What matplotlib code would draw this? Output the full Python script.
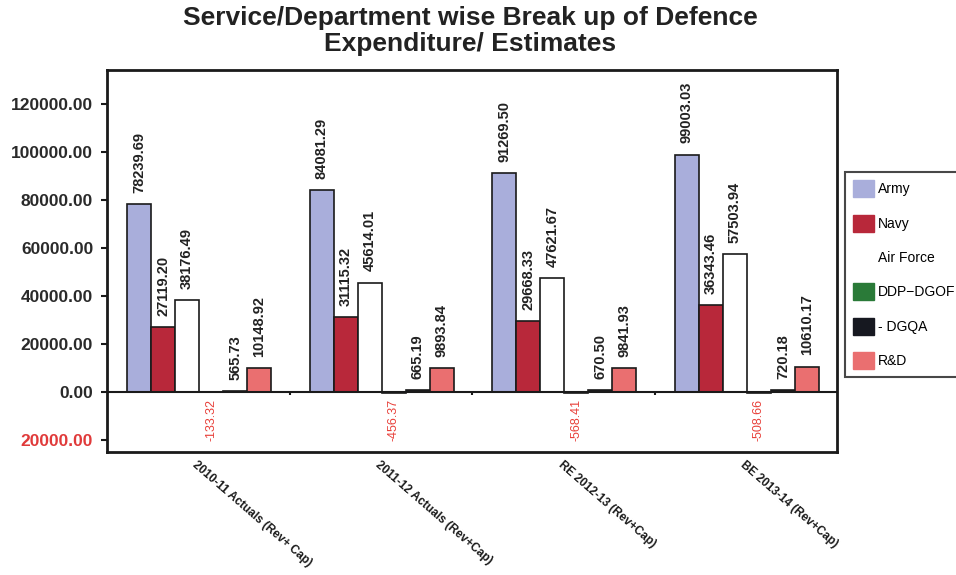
import matplotlib.pyplot as plt
from matplotlib.patches import Patch
import numpy as np

plt.rcParams['font.family'] = ['Liberation Sans', 'DejaVu Sans']

periods = ['2010-11 Actuals (Rev+ Cap)', '2011-12 Actuals (Rev+Cap)',
           'RE 2012-13 (Rev+Cap)', 'BE 2013-14 (Rev+Cap)']
services = ['Army', 'Navy', 'Air Force', 'DDP\u2212DGOF', '- DGQA', 'R&D']
army = [78239.69, 84081.29, 91269.50, 99003.03]
navy = [27119.20, 31115.32, 29668.33, 36343.46]
air_force = [38176.49, 45614.01, 47621.67, 57503.94]
ddp_dgof = [-133.32, -456.37, -568.41, -508.66]
dgqa = [565.73, 665.19, 670.50, 720.18]
rnd = [10148.92, 9893.84, 9841.93, 10610.17]
yticks = [-20000, 0, 20000, 40000, 60000, 80000, 100000, 120000]

series = [army, navy, air_force, ddp_dgof, dgqa, rnd]
colors = ['#a9aedb', '#b8283a', '#ffffff', '#2a7a38', '#161820', '#ea6f70']

fig = plt.figure(figsize=(9.56, 5.75), dpi=100)
ax = fig.add_axes([0.112, 0.214, 0.764, 0.664])

x = np.arange(len(periods))
w = 0.1315
start = -0.39 + w / 2
for i, (vals, c) in enumerate(zip(series, colors)):
    pos = x + start + i * w
    ax.bar(pos, vals, w, color=c, edgecolor='#1a1a1a', linewidth=1.2, zorder=3)
    for p, v in zip(pos, vals):
        if v >= 0:
            ax.annotate(f'{v:.2f}', (p, v), xytext=(0, 8), textcoords='offset points',
                        rotation=90, ha='center', va='bottom', fontsize=10.5,
                        fontweight='bold', color='#222222')
        else:
            ax.annotate(f'{v:.2f}', (p, 0), xytext=(0, -5), textcoords='offset points',
                        rotation=90, ha='center', va='top', fontsize=9,
                        color='#e8403a')

ax.axhline(0, color='#1a1a1a', linewidth=1.5, zorder=4)
ax.vlines(x[:-1] + 0.5, -1300, 0, color='#1a1a1a', linewidth=1.5, zorder=4)

ax.set_xlim(-0.5, 3.5)
ax.set_ylim(-25000, 134200)
ax.set_yticks(yticks)
ax.set_yticklabels([f'{abs(v):.2f}' for v in yticks], fontsize=12.5, fontweight='bold',
                   color='#2a2a2a')
ax.get_yticklabels()[0].set_color('#e03a3a')
ax.tick_params(axis='y', length=4, width=1.5, color='#1a1a1a', pad=6)

ax.set_xticks(x)
ax.set_xticklabels(periods, rotation=-41, ha='left', rotation_mode='anchor',
                   fontsize=8.5, fontweight='bold', color='#1a1a1a')
ax.tick_params(axis='x', length=0, pad=5)
for lab in ax.get_xticklabels():
    x0, y0 = lab.get_position()
    lab.set_x(x0 - 0.06)

for s in ax.spines.values():
    s.set_linewidth(2)
    s.set_color('#1a1a1a')

fig.suptitle('Service/Department wise Break up of Defence\nExpenditure/ Estimates',
             x=0.492, y=0.99, fontsize=19, fontweight='bold', color='#222222',
             linespacing=1.12)

handles = [Patch(facecolor=c, edgecolor=c) for c in colors]
leg = fig.legend(handles, services, loc='upper left',
                 bbox_to_anchor=(845 / 956, 1 - 172 / 575), borderaxespad=0,
                 fontsize=10, labelspacing=1.25, handlelength=1.5, handleheight=1.5,
                 handletextpad=0.3, borderpad=0.6, fancybox=False, frameon=True)
leg.get_frame().set_edgecolor('#1a1a1a')
leg.get_frame().set_linewidth(1.5)

fig.savefig('out.png', dpi=100)
